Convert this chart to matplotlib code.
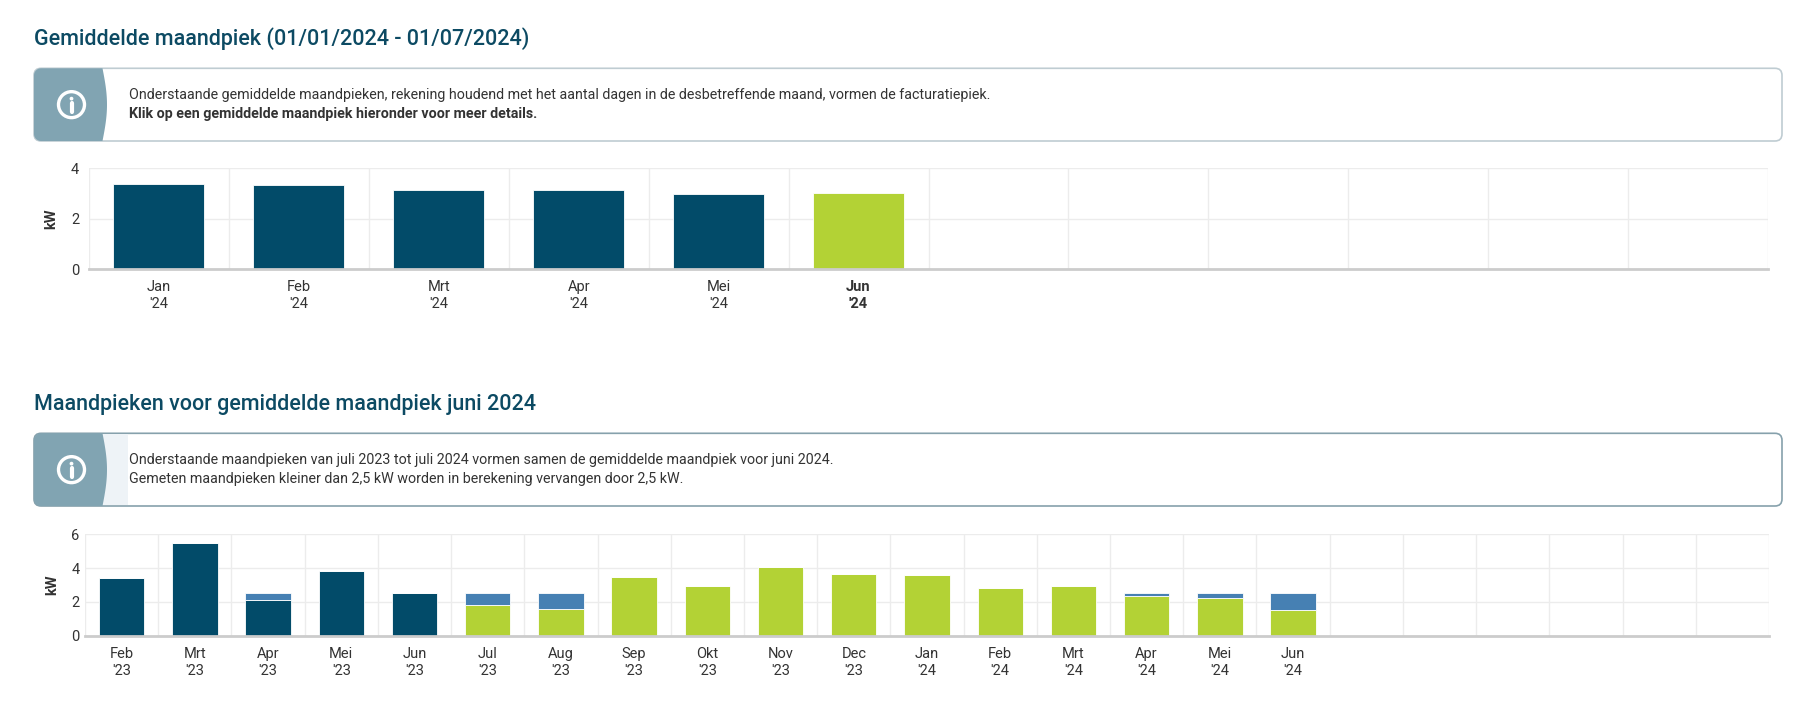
import numpy as np
import matplotlib
matplotlib.use('Agg')
import matplotlib.pyplot as plt
from matplotlib.patches import Polygon, Circle, FancyBboxPatch

plt.rcParams['font.family'] = ['Roboto', 'DejaVu Sans']

# ---- data ----
top_months = ['Jan', 'Feb', 'Mrt', 'Apr', 'Mei', 'Jun']
top_years = ["'24", "'24", "'24", "'24", "'24", "'24"]
top_values = [3.38, 3.33, 3.12, 3.12, 2.99, 3.00]
top_selected = 5          # month in green, bold label
top_slots = 12            # Jan..Dec '24

bot_months = ['Feb', 'Mrt', 'Apr', 'Mei', 'Jun', 'Jul', 'Aug', 'Sep', 'Okt',
              'Nov', 'Dec', 'Jan', 'Feb', 'Mrt', 'Apr', 'Mei', 'Jun']
bot_years = ["'23"] * 11 + ["'24"] * 6
bot_measured = [3.44, 5.51, 2.13, 3.84, 2.50, 1.79, 1.57, 3.50, 2.95,
                4.06, 3.68, 3.60, 2.83, 2.93, 2.34, 2.24, 1.52]
bot_topup = [0, 0, 0.37, 0, 0, 0.71, 0.93, 0, 0,
             0, 0, 0, 0, 0, 0.16, 0.26, 0.98]
bot_in_window = [False] * 5 + [True] * 12
bot_slots = 23            # Feb '23..Dec '24

titles = ['Gemiddelde maandpiek (01/01/2024 - 01/07/2024)',
          'Maandpieken voor gemiddelde maandpiek juni 2024']
info_lines = [
    ['Onderstaande gemiddelde maandpieken, rekening houdend met het aantal dagen in de desbetreffende maand, vormen de facturatiepiek.',
     'Klik op een gemiddelde maandpiek hieronder voor meer details.'],
    ['Onderstaande maandpieken van juli 2023 tot juli 2024 vormen samen de gemiddelde maandpiek voor juni 2024.',
     'Gemeten maandpieken kleiner dan 2,5 kW worden in berekening vervangen door 2,5 kW.'],
]

NAVY = '#024b69'
GREEN = '#b3d235'
BLUE = '#4680b3'
TITLE_C = '#0c4a63'
TEXT_C = '#333333'
PANEL = '#81a4b2'
TICK_FS = 10.5

W, H = 1798, 701
fig = plt.figure(figsize=(W / 100, H / 100), dpi=100)

# background axes in pixel coordinates for titles and info boxes
bg = fig.add_axes([0, 0, 1, 1], zorder=0)
bg.set_xlim(0, W)
bg.set_ylim(H, 0)
bg.axis('off')


def info_box(y0, y1, lines, bold_second, border, band):
    x0, x1 = 34, 1782
    bg.add_patch(FancyBboxPatch((x0, y0), x1 - x0, y1 - y0,
                                boxstyle='round,pad=0,rounding_size=7',
                                fc='white', ec=border, lw=1.2, zorder=1))
    if band:
        bg.add_patch(Polygon([(100, y0 + 0.6), (128, y0 + 0.6), (128, y1 - 0.6), (100, y1 - 0.6)],
                             closed=True, fc='#eef3f7', ec='none', zorder=2))
    # left panel with rounded left corners and bulging right edge
    r = 7
    pts = []
    t = np.linspace(0, np.pi / 2, 12)
    pts += [(x0 + r - r * np.sin(a), y0 + r - r * np.cos(a)) for a in t]
    pts += [(x0 + r - r * np.cos(a), y1 - r + r * np.sin(a)) for a in t]
    ys = np.linspace(y1, y0, 40)
    pts += [(102.5 + 4.5 * np.sin(np.pi * (y1 - yy) / (y1 - y0)), yy) for yy in ys]
    bg.add_patch(Polygon(pts, closed=True, fc=PANEL, ec='none', zorder=3))
    cx, cy = 71.5, (y0 + y1) / 2
    bg.add_patch(Circle((cx, cy), 13, fc='none', ec='white', lw=2.4, zorder=4))
    bg.add_patch(Circle((cx, cy - 6), 1.9, fc='white', ec='none', zorder=4))
    bg.plot([cx, cx], [cy - 1.5, cy + 7.5], color='white', lw=3.0,
            solid_capstyle='round', zorder=4)
    base = y0 + 31
    for i, line in enumerate(lines):
        bg.text(129, base + i * 18.3, line, fontsize=10.3, color=TEXT_C,
                weight='bold' if (bold_second and i == 1) else 'normal',
                va='baseline', ha='left', zorder=5)


bg.text(34, 45, titles[0], fontsize=15.5, color=TITLE_C, weight='medium', va='baseline')
bg.text(34, 410, titles[1], fontsize=15.5, color=TITLE_C, weight='medium', va='baseline')
info_box(68.3, 141, info_lines[0], True, '#bfccd2', False)
info_box(433.3, 506, info_lines[1], False, '#86a1ac', True)


def chart_axes(left, right, top, bottom):
    ax = fig.add_axes([left / W, 1 - bottom / H, (right - left) / W, (bottom - top) / H], zorder=2)
    ax.set_facecolor('none')
    for s in ['top', 'right', 'left']:
        ax.spines[s].set_visible(False)
    ax.spines['bottom'].set_color('#cccccc')
    ax.spines['bottom'].set_linewidth(2)
    ax.spines['bottom'].set_zorder(5)
    ax.tick_params(axis='both', length=0, labelsize=TICK_FS, labelcolor=TEXT_C)
    ax.grid(axis='y', color='#ececec', lw=1)
    ax.grid(axis='x', which='minor', color='#ececec', lw=1)
    ax.set_axisbelow(True)
    ax.set_ylabel('kW', fontsize=TICK_FS, weight='bold', color=TEXT_C)
    return ax


# ---- top chart ----
ax1 = chart_axes(89, 1768, 168, 269)
x1 = np.arange(len(top_values))
colors1 = [GREEN if i == top_selected else NAVY for i in x1]
ax1.bar(x1, top_values, width=0.65, color=colors1, edgecolor='#ffffff', linewidth=0.6, zorder=3)
ax1.set_xlim(-0.5, top_slots - 0.5)
ax1.set_ylim(0, 4)
ax1.set_yticks([0, 2, 4])
ax1.set_xticks(np.arange(-0.5, top_slots, 1), minor=True)
ax1.tick_params(axis='x', which='minor', length=0)
ax1.set_xticks(x1)
ax1.set_xticklabels([f'{m}\n{y}' for m, y in zip(top_months, top_years)], linespacing=1.3)
ax1.tick_params(axis='x', pad=8)
ax1.tick_params(axis='y', pad=7)
ax1.get_xticklabels()[top_selected].set_fontweight('bold')
ax1.yaxis.set_label_coords(-0.0185, 0.5)

# ---- bottom chart ----
ax2 = chart_axes(85, 1769, 534.3, 635.7)
x2 = np.arange(len(bot_measured))
colors2 = [GREEN if w else NAVY for w in bot_in_window]
ax2.bar(x2, bot_measured, width=0.62, color=colors2, edgecolor='#ffffff', linewidth=0.6, zorder=3)
ax2.bar(x2, bot_topup, bottom=bot_measured, width=0.62, color=BLUE,
        edgecolor='#ffffff', linewidth=0.6, zorder=3)
ax2.set_xlim(-0.5, bot_slots - 0.5)
ax2.set_ylim(0, 6)
ax2.set_yticks([0, 2, 4, 6])
ax2.set_xticks(np.arange(-0.5, bot_slots, 1), minor=True)
ax2.tick_params(axis='x', which='minor', length=0)
ax2.set_xticks(x2)
ax2.set_xticklabels([f'{m}\n{y}' for m, y in zip(bot_months, bot_years)], linespacing=1.3)
ax2.tick_params(axis='x', pad=8)
ax2.tick_params(axis='y', pad=4)
ax2.yaxis.set_label_coords(-0.0155, 0.5)

fig.savefig('out.png', dpi=100, facecolor='white')
